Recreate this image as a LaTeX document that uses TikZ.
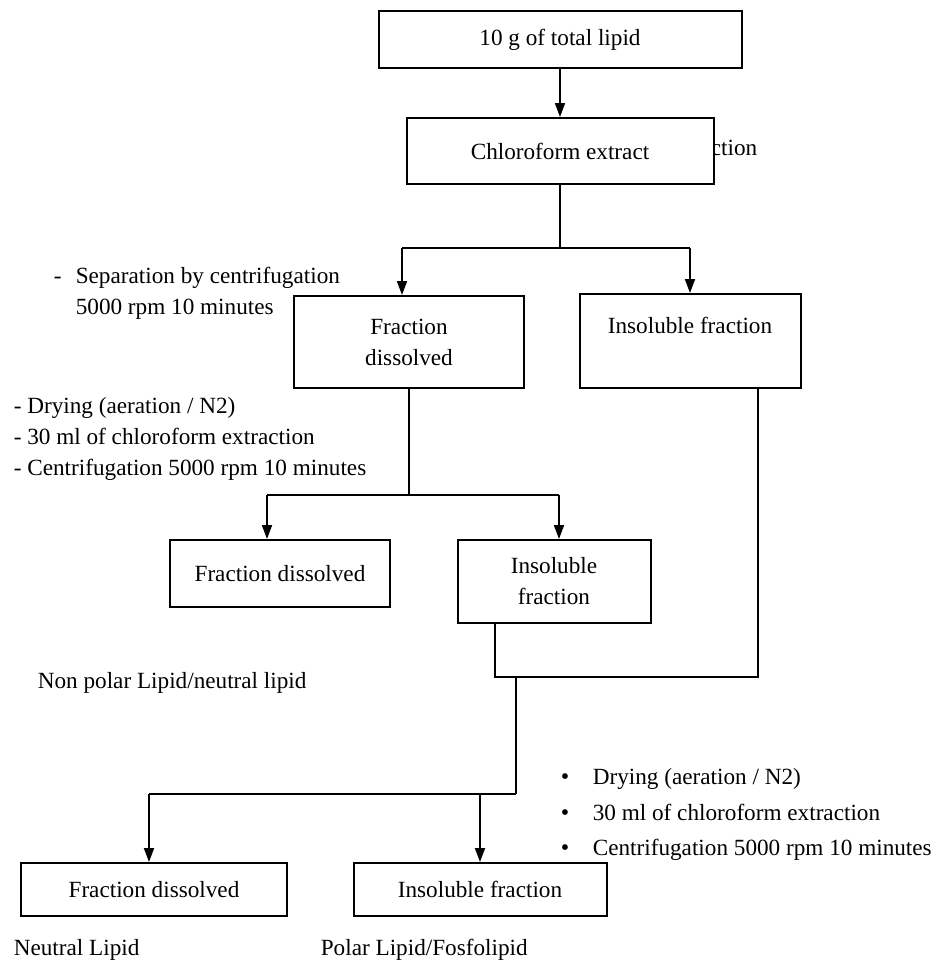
\documentclass[tikz,border=0pt]{standalone}
\usepackage{fontspec}
\setmainfont{Liberation Serif}
\usetikzlibrary{arrows.meta}

\begin{document}
\begin{tikzpicture}[x=0.5pt, y=-0.5pt, thick, font=\fontsize{11.6}{15.5}\selectfont]
\tikzstyle{box}=[rectangle, draw=black, line width=1pt, fill=white, align=center, inner sep=2pt]
\tikzstyle{note}=[anchor=west, inner sep=0pt, align=left]
\tikzstyle{flow}=[line width=0.9pt]
\tikzstyle{arr}=[flow, -{Triangle[length=7pt, width=5pt]}]

	\useasboundingbox (0,0) rectangle (942,966);

	%text partly hidden behind the extract box
	\node[note, anchor=east] (hidden) at (758,148) {action};

	%boxes
	\node[box, minimum width=181.5pt, minimum height=28.5pt] (total) at (560,39.5) {10 g of total lipid};
	\node[box, minimum width=153.5pt, minimum height=33pt] (chloro) at (560,151) {Chloroform extract};
	\node[box, minimum width=115pt, minimum height=46pt] (dis1) at (409,342) {Fraction\\dissolved};
	\node[box, minimum width=110.5pt, minimum height=47pt] (ins1) at (690,341) {Insoluble fraction\\~};
	\node[box, minimum width=110pt, minimum height=33.5pt] (dis2) at (280,573.5) {Fraction dissolved};
	\node[box, minimum width=96.5pt, minimum height=41.5pt] (ins2) at (554,581.5) {Insoluble\\fraction};
	\node[box, minimum width=133pt, minimum height=26.5pt] (dis3) at (154,889.5) {Fraction dissolved};
	\node[box, minimum width=126.5pt, minimum height=26.5pt] (ins3) at (480,889.5) {Insoluble fraction};

	%notes
	\node[note] (sep) at (53,292.5) {\begin{tabular}{@{}p{11pt}@{}l@{}}-&Separation by centrifugation\\&5000 rpm 10 minutes\end{tabular}};
	\node[note] (dry1) at (13,438.5) {- Drying (aeration / N2)\\- 30 ml of chloroform extraction\\- Centrifugation 5000 rpm 10 minutes};
	\node[note] (nonpolar) at (37,683) {Non polar Lipid/neutral lipid};
	\node[note] (dry2) at (560,813) {\def\arraystretch{1.13}\begin{tabular}{@{}p{16pt}@{}l@{}}{\large\textbullet}&Drying (aeration / N2)\\{\large\textbullet}&30 ml of chloroform extraction\\{\large\textbullet}&Centrifugation 5000 rpm 10 minutes\end{tabular}};
	\node[note] (neutral) at (13,950) {Neutral Lipid};
	\node[note] (polar) at (320,950) {Polar Lipid/Fosfolipid};

	%junctions
	\coordinate (split1) at (560,248);
	\coordinate (s1l) at (402,248);
	\coordinate (s1r) at (690,248);
	\coordinate (split2) at (409,495);
	\coordinate (s2l) at (267,495);
	\coordinate (s2r) at (559,495);
	\coordinate (j1) at (495,677);
	\coordinate (j2) at (758,677);
	\coordinate (m3) at (516,677);
	\coordinate (split3) at (516,794);
	\coordinate (s3l) at (149,794);
	\coordinate (s3r) at (480,794);

	%paths
	\draw[arr] (total) -- (chloro);
	\draw[flow] (chloro.south) -- (split1);
	\draw[flow] (s1l) -- (s1r);
	\draw[arr] (s1l) -- (s1l |- dis1.north);
	\draw[arr] (s1r) -- (ins1.north);
	\draw[flow] (dis1.south) -- (split2);
	\draw[flow] (s2l) -- (s2r);
	\draw[arr] (s2l) -- (s2l |- dis2.north);
	\draw[arr] (s2r) -- (s2r |- ins2.north);
	\draw[flow] (j1 |- ins2.south) -- (j1) -- (j2) -- (j2 |- ins1.south);
	\draw[flow] (m3) -- (split3);
	\draw[flow] (s3l) -- (split3);
	\draw[arr] (s3l) -- (s3l |- dis3.north);
	\draw[arr] (s3r) -- (ins3.north);

\end{tikzpicture}
\end{document}
